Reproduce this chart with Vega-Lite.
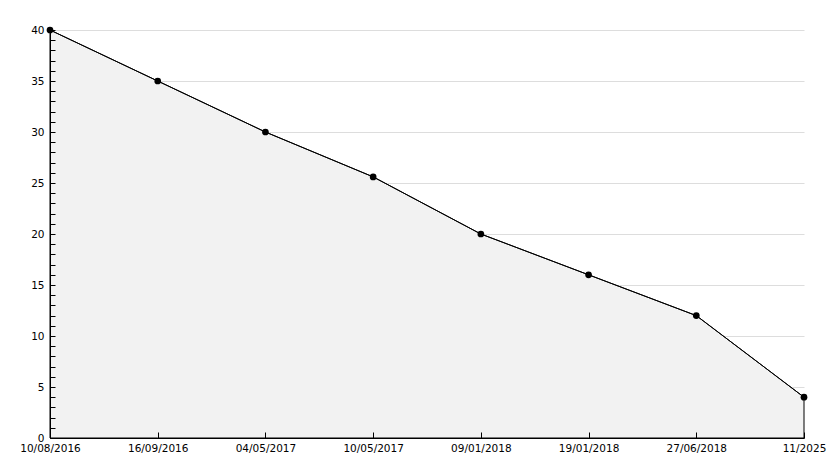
{
  "$schema": "https://vega.github.io/schema/vega-lite/v6.json",
  "width": 754,
  "height": 408,
  "autosize": {"type": "none"},
  "padding": {"left": 50, "top": 30, "right": 30, "bottom": 30},
  "background": "white",
  "config": {
    "view": {"stroke": null},
    "font": "DejaVu Sans",
    "axis": {"labelFont": "DejaVu Sans", "labelFontSize": 10.5, "labelColor": "#000000", "domainColor": "#000000", "tickColor": "#000000", "tickWidth": 1, "tickOpacity": 1}
  },
  "data": {
    "values": [
      {"date": "10/08/2016", "value": 40},
      {"date": "16/09/2016", "value": 35},
      {"date": "04/05/2017", "value": 30},
      {"date": "10/05/2017", "value": 25.6},
      {"date": "09/01/2018", "value": 20},
      {"date": "19/01/2018", "value": 16},
      {"date": "27/06/2018", "value": 12},
      {"date": "11/2025", "value": 4}
    ]
  },
  "resolve": {"axis": {"y": "independent"}},
  "encoding": {
    "x": {
      "field": "date", "type": "ordinal", "sort": null,
      "scale": {"type": "point", "padding": 0},
      "axis": {"title": null, "labelAngle": 0, "ticks": true, "tickSize": -6, "labelPadding": 11, "grid": false, "domainWidth": 1, "zindex": 1}
    }
  },
  "layer": [
    {
      "mark": {"type": "area", "fill": "#f2f2f2", "fillOpacity": 1, "opacity": 1, "stroke": "#000000", "strokeWidth": 1},
      "encoding": {
        "y": {
          "field": "value", "type": "quantitative",
          "scale": {"domain": [0, 40], "nice": false},
          "axis": {
            "title": null, "orient": "left",
            "values": [5, 10, 15, 20, 25, 30, 35, 40],
            "labels": false, "ticks": false, "domain": false,
            "grid": true, "gridColor": "#dddddd", "zindex": 0
          }
        }
      }
    },
    {
      "mark": {"type": "line", "color": "#000000", "strokeWidth": 1},
      "encoding": {
        "y": {
          "field": "value", "type": "quantitative",
          "scale": {"domain": [0, 40], "nice": false},
          "axis": {
            "title": null, "orient": "left",
            "values": [0,1,2,3,4,5,6,7,8,9,10,11,12,13,14,15,16,17,18,19,20,21,22,23,24,25,26,27,28,29,30,31,32,33,34,35,36,37,38,39,40],
            "labelExpr": "datum.value % 5 === 0 ? datum.label : ''",
            "ticks": true,
            "tickSize": -5,
            "labelPadding": 11,
            "grid": false,
            "labelBound": false,
            "labelFlush": false,
            "zindex": 1
          }
        }
      }
    },
    {
      "mark": {"type": "point", "filled": true, "color": "#000000", "size": 45, "opacity": 1},
      "encoding": {
        "y": {"field": "value", "type": "quantitative", "scale": {"domain": [0, 40], "nice": false}, "axis": null}
      }
    }
  ]
}
